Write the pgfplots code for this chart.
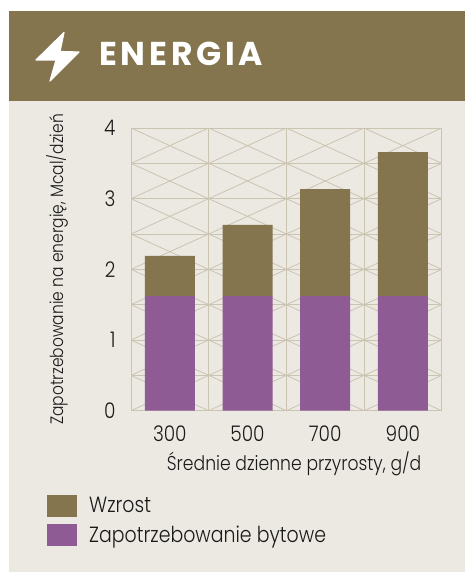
\documentclass[border=0pt]{standalone}
\usepackage{fontspec}
\setmainfont{Poppins Light}[FakeStretch=0.86]
\newfontfamily\titlefont{Poppins Bold}
\usepackage{pgfplots}
\pgfplotsset{compat=1.18}
\definecolor{panel}{HTML}{ECE9E2}
\definecolor{brown}{HTML}{84754E}
\definecolor{plum}{HTML}{8F5B94}
\definecolor{gridc}{HTML}{CBC4B1}
\definecolor{ink}{HTML}{1A1A1A}
\pgfplotsset{
  frame/.style={
    at={(131pt,-410.7pt)},anchor=south west,
    scale only axis,width=310.7pt,height=282.7pt,
    xmin=0,xmax=4,ymin=0,ymax=4,
  }
}
\begin{document}
\begin{tikzpicture}[x=1pt,y=-1pt]
% page, panel and header band (y runs downwards)
\useasboundingbox (0,0) rectangle (465,572);
\fill[white] (0,0) rectangle (465,572);
\fill[panel] (9,11) rectangle (465,572);
\fill[brown] (9,11) rectangle (465,101);
% lightning bolt
\fill[white,draw=white,line width=1.2pt,line join=round]
  (64,32.5) -- (36,60) -- (56,60) -- (50,81) -- (79,52) -- (60,51.5) -- cycle;
\node[anchor=base west,text=white,inner sep=0pt,font=\fontsize{33}{33}\titlefont]
  at (99,66) {E\kern3.8pt N\kern3.8pt E\kern3.8pt R\kern3.8pt G\kern3.8pt I\kern3.8pt A};
% lattice behind the bars
\begin{axis}[frame,
  axis line style={draw=gridc,line width=1pt},
  xtick=\empty,ytick=\empty,
]
\pgfplotsinvokeforeach{0.5,1,1.5,2,2.5,3,3.5}{
  \draw[gridc,line width=1pt] (axis cs:0,#1) -- (axis cs:4,#1);
}
\pgfplotsinvokeforeach{1,2,3}{
  \draw[gridc,line width=1pt] (axis cs:#1,0) -- (axis cs:#1,4);
}
\pgfplotsinvokeforeach{0,0.5,1,1.5,2,2.5,3,3.5}{
  \draw[gridc,line width=0.8pt]
    (axis cs:0,#1) -- (axis cs:1,{#1+0.5}) -- (axis cs:2,#1) -- (axis cs:3,{#1+0.5}) -- (axis cs:4,#1);
  \draw[gridc,line width=0.8pt]
    (axis cs:0,{#1+0.5}) -- (axis cs:1,#1) -- (axis cs:2,{#1+0.5}) -- (axis cs:3,#1) -- (axis cs:4,{#1+0.5});
}
\end{axis}
% stacked bars, tick labels, titles and legend
\begin{axis}[frame,
  axis line style={draw=none},
  xtick={0.5,1.5,2.5,3.5},xticklabels={300,500,700,900},
  ytick={0,1,2,3,4},
  tick style={draw=none},
  /pgf/number format/assume math mode=true,
  tick label style={font=\fontsize{21.5}{22}\selectfont,text=ink},
  xticklabel style={yshift=-12pt},
  yticklabel style={xshift=-12pt},
  xlabel={Średnie dzienne przyrosty, g/d},
  ylabel={Zapotrzebowanie na energię, Mcal/dzień},
  every axis x label/.style={at={(axis description cs:0.525,-0.187)},anchor=center,
    font=\fontsize{20}{20}\selectfont,text=ink},
  every axis y label/.style={at={(axis description cs:-0.238,0.50)},anchor=center,rotate=90,
    font=\fontsize{18}{18}\selectfont,text=ink},
  ybar stacked,bar width=50pt,
  legend style={at={(axis description cs:-0.28,-0.29)},anchor=north west,draw=none,fill=none,
    font=\fontsize{22}{22}\selectfont,text=ink,row sep=7pt},
  legend cell align=left,reverse legend,
  legend image code/.code={\fill[#1] (0pt,-11pt) rectangle (30pt,11pt);},
  /tikz/every odd column/.append style={column sep=10pt},
]
\addplot[fill=plum,draw=none] coordinates {(0.5,1.62) (1.5,1.62) (2.5,1.62) (3.5,1.62)};
\addplot[fill=brown,draw=none] coordinates {(0.5,0.57) (1.5,1.01) (2.5,1.515) (3.5,2.04)};
\legend{Zapotrzebowanie bytowe,Wzrost}
\end{axis}
\end{tikzpicture}
\end{document}
